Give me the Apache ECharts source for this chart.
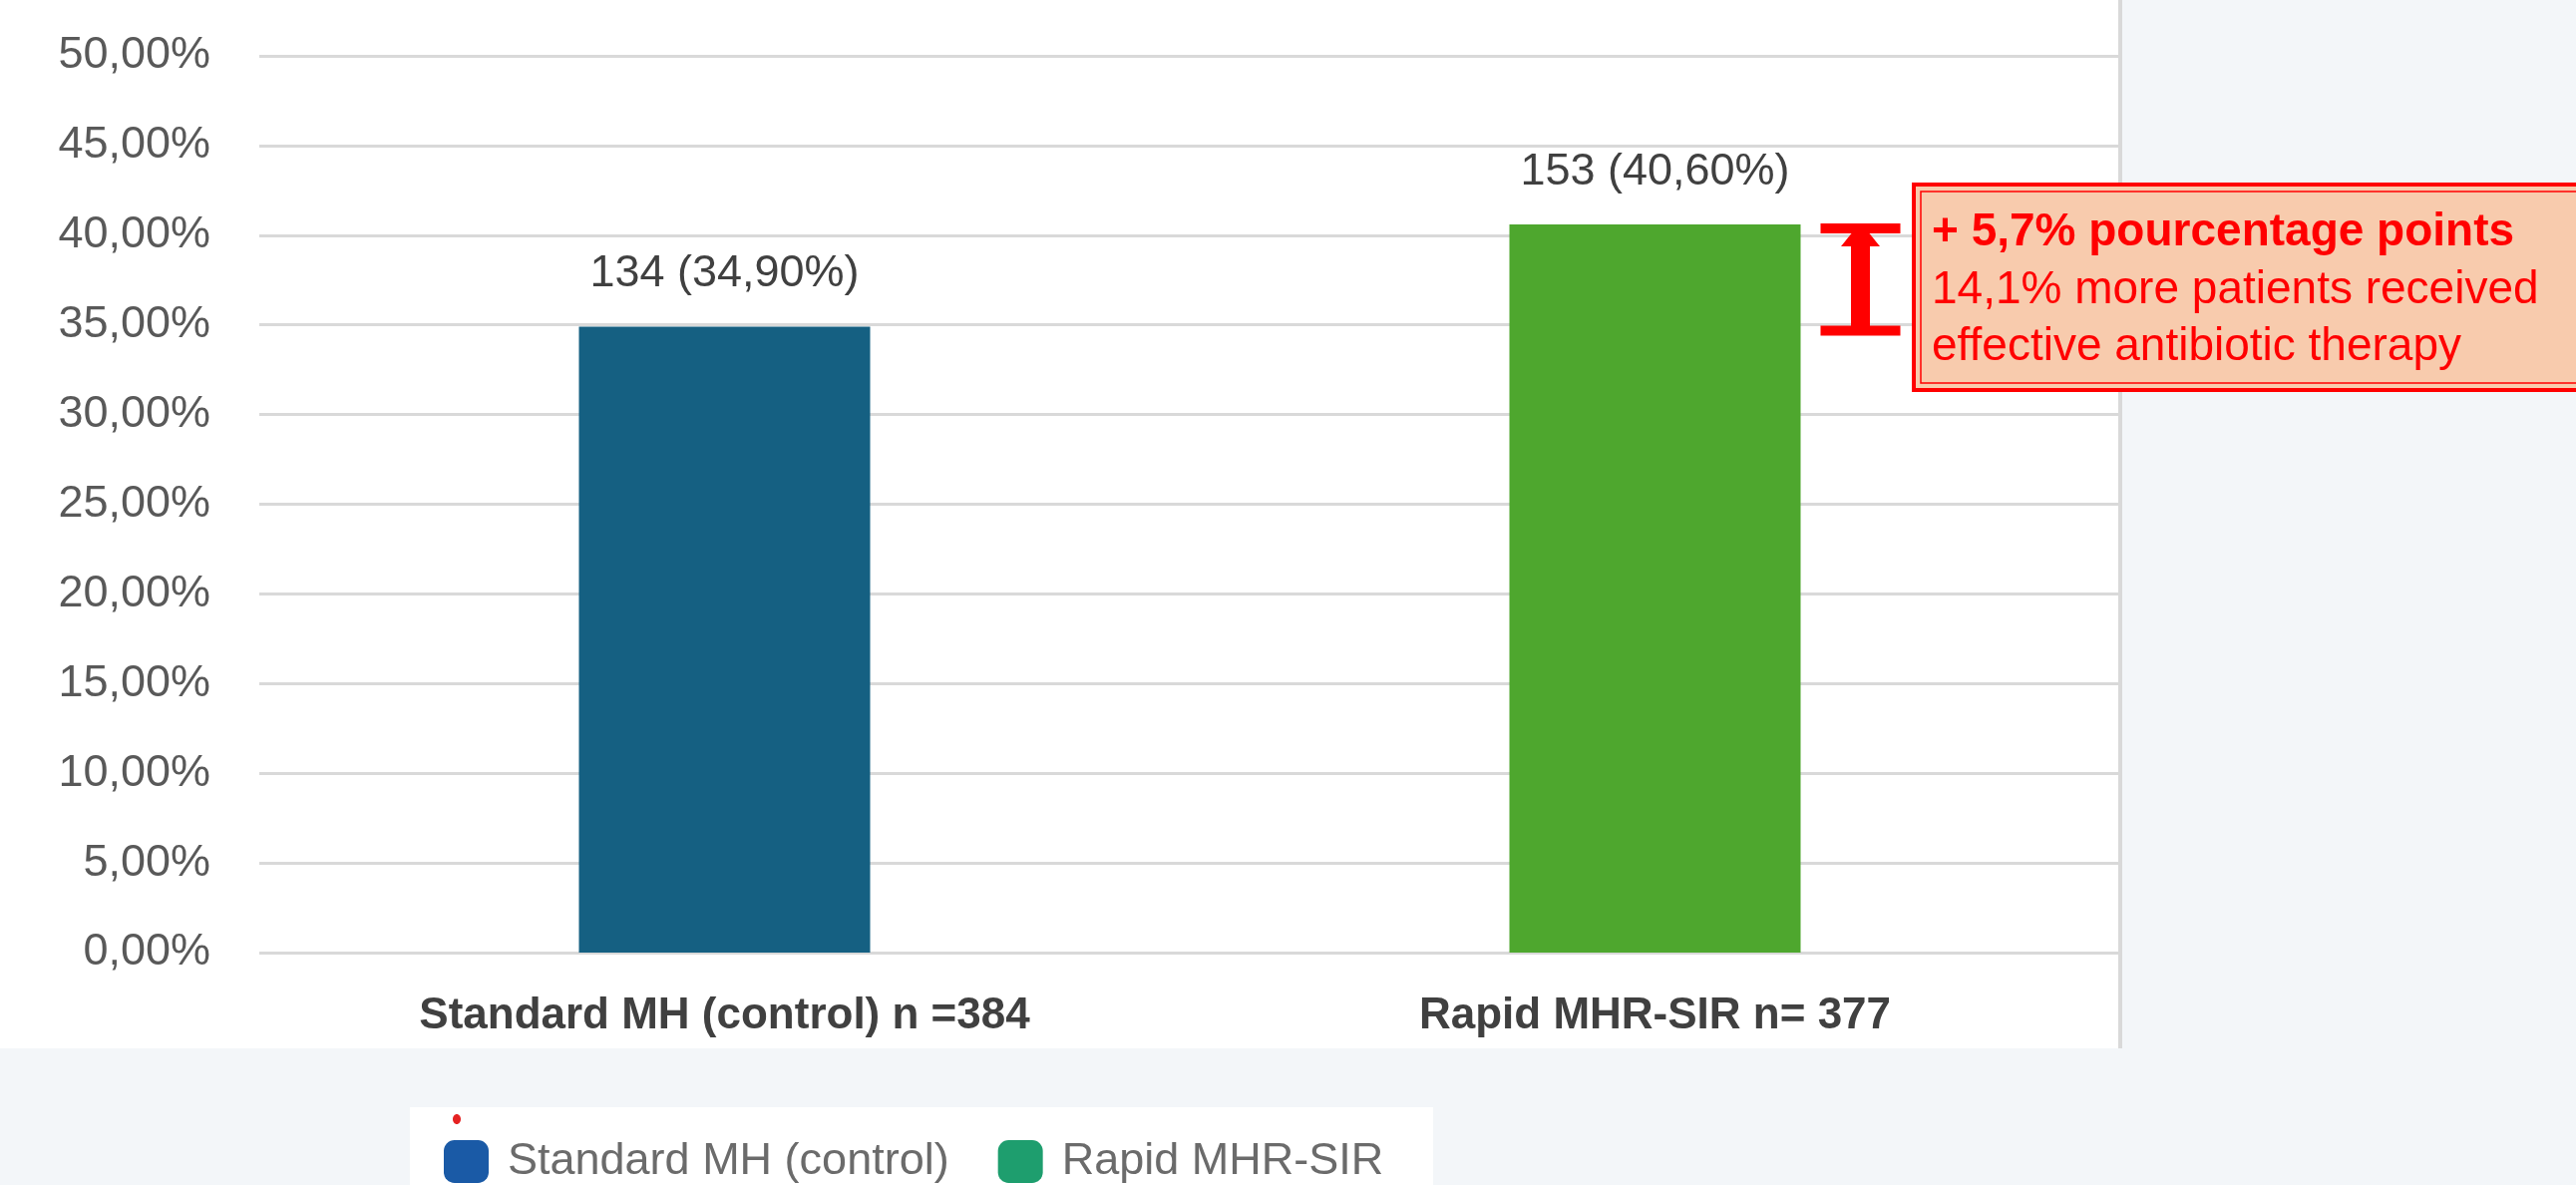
<!DOCTYPE html>
<html>
<head>
<meta charset="utf-8">
<script src="https://cdn.jsdelivr.net/npm/echarts@6/dist/echarts.min.js"></script>
<style>
  html, body { margin: 0; padding: 0; background: #f3f6f9; width: 2583px; height: 1188px; overflow: hidden; }
  #panel { position: absolute; left: 0; top: 0; width: 2124px; height: 1051px; background: #ffffff; border-right: 4px solid #d9d9d9; }
  #legendBox { position: absolute; left: 411px; top: 1110px; width: 1026px; height: 78px; background: #ffffff; }
  #chart { position: absolute; left: 0; top: 0; width: 2583px; height: 1188px; }
</style>
</head>
<body>
<div id="panel"></div>
<div id="legendBox"></div>
<div id="chart"></div>
<script>
// ---- data ----
const categories = ['Standard MH (control) n =384', 'Rapid MHR-SIR n= 377'];
const seriesNames = ['Standard MH (control)', 'Rapid MHR-SIR'];
const counts = [134, 153];
const percents = [34.90, 40.60];
const yMin = 0, yMax = 50, yInterval = 5;
const annotationLines = ['+ 5,7% pourcentage points', '14,1% more patients received', 'effective antibiotic therapy'];

// ---- styles ----
const barColors = ['#156082', '#4ea72e'];
const legendColors = ['#1a5aa6', '#1e9e6e'];
const FONT = '"Liberation Sans", Arial, sans-serif';

function fmtPct(v) { return v.toFixed(2).replace('.', ',') + '%'; }

const chart = echarts.init(document.getElementById('chart'), null, { renderer: 'canvas' });

const barLabel = {
  show: true,
  position: 'top',
  distance: 30,
  fontFamily: FONT,
  fontSize: 45,
  color: '#404040',
  formatter: p => counts[p.dataIndex] + ' (' + fmtPct(percents[p.dataIndex]) + ')'
};

const ZA = 100;
const annFont = '46px "Liberation Sans", Arial, sans-serif';

const option = {
  backgroundColor: 'transparent',
  animation: false,
  grid: { left: 260, right: 457, top: 56, bottom: 233, containLabel: false },
  xAxis: {
    type: 'category',
    data: categories,
    axisLine: { show: false },
    axisTick: { show: false },
    axisLabel: {
      margin: 42,
      fontFamily: FONT,
      fontWeight: 'bold',
      fontSize: 44,
      color: '#404040'
    }
  },
  yAxis: {
    type: 'value',
    min: yMin, max: yMax, interval: yInterval,
    axisLine: { show: false },
    axisTick: { show: false },
    splitLine: { lineStyle: { color: '#d9d9d9', width: 3 } },
    axisLabel: {
      margin: 49,
      fontFamily: FONT,
      fontSize: 45,
      color: '#595959',
      formatter: v => fmtPct(v)
    }
  },
  legend: {
    left: 440, top: 1137,
    itemWidth: 45, itemHeight: 43, itemGap: 49,
    icon: 'roundRect',
    textStyle: { fontFamily: FONT, fontSize: 45, color: '#6b6b6b', padding: [0, 0, 0, 14] },
    data: seriesNames.map((n, i) => ({ name: n, itemStyle: { color: legendColors[i] } }))
  },
  series: [
    {
      name: seriesNames[0], type: 'bar', barWidth: 292, barGap: '-100%',
      itemStyle: { color: barColors[0] },
      label: barLabel,
      data: [percents[0], '-']
    },
    {
      name: seriesNames[1], type: 'bar', barWidth: 292, barGap: '-100%',
      itemStyle: { color: barColors[1] },
      label: barLabel,
      data: ['-', percents[1]]
    },
    {
      name: 'difference', type: 'custom', clip: false, z: 5,
      encode: { x: 0, y: [1, 2] },
      data: [[1, percents[0], percents[1]]],
      renderItem: function (params, api) {
        const top = api.coord([api.value(0), api.value(2)]);
        const bot = api.coord([api.value(0), api.value(1)]);
        const cx = top[0] + 206;
        const red = '#ff0000';
        return {
          type: 'group',
          children: [
            { type: 'rect', shape: { x: cx - 40, y: top[1] - 1, width: 80, height: 10 }, style: { fill: red } },
            { type: 'rect', shape: { x: cx - 40, y: bot[1] - 1, width: 80, height: 10 }, style: { fill: red } },
            { type: 'rect', shape: { x: cx - 9.5, y: top[1] + 21, width: 19, height: bot[1] - top[1] - 21 }, style: { fill: red } },
            { type: 'polygon', shape: { points: [[cx - 19.5, top[1] + 22], [cx + 19.5, top[1] + 22], [cx + 9, top[1] + 9], [cx - 9, top[1] + 9]] }, style: { fill: red } }
          ]
        };
      }
    }
  ],
  graphic: [
    { type: 'rect', z: ZA, shape: { x: 1919, y: 185, width: 700, height: 206 }, style: { fill: '#f8cbad', stroke: '#ff0000', lineWidth: 4 } },
    { type: 'rect', z: ZA + 1, shape: { x: 1926, y: 192, width: 700, height: 192 }, style: { fill: 'none', stroke: '#ff0000', lineWidth: 1.5 } },
    { type: 'text', z: ZA + 2, x: 1937, y: 233, style: { text: annotationLines[0], fill: '#ff0000', font: 'bold ' + annFont, verticalAlign: 'middle' } },
    { type: 'text', z: ZA + 2, x: 1937, y: 291, style: { text: annotationLines[1], fill: '#ff0000', font: annFont, verticalAlign: 'middle' } },
    { type: 'text', z: ZA + 2, x: 1937, y: 348, style: { text: annotationLines[2], fill: '#ff0000', font: annFont, verticalAlign: 'middle' } },
    { type: 'ellipse', z: ZA, shape: { cx: 458, cy: 1122, rx: 4, ry: 5 }, style: { fill: '#e52222' } }
  ]
};

chart.setOption(option);
</script>
</body>
</html>
